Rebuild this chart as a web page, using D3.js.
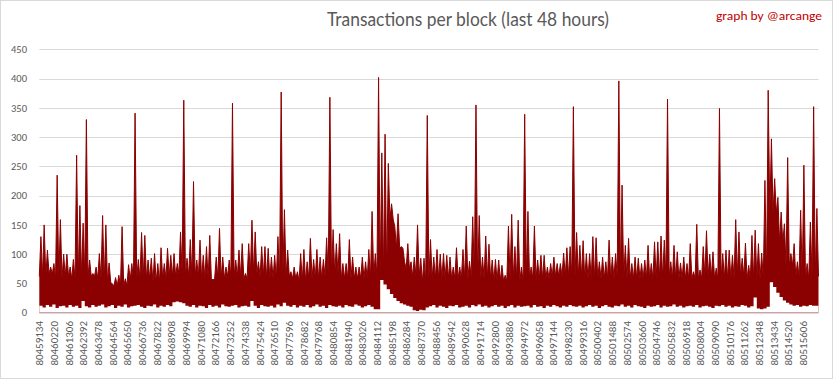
<!DOCTYPE html>
<html><head><meta charset="utf-8">
<script src="https://cdn.jsdelivr.net/npm/d3@7"></script>
<style>body{margin:0;background:#fff;overflow:hidden}</style>
</head><body>
<svg id="chart" width="833" height="379"></svg>
<script>
// ---- data ----
const firstBlock = 80459134;
const totalBlocks = 57600;
const bucketSize = 240;      // highValues / lowValues: max and min per 240-block bucket
const bodySize = 600;        // bodyValues: level of the dense (solid) band per 600 blocks

const highValues = [
 130,150,107,78,84,235,159,100,100,78, 91,269,183,153,330,90,67,78,101,166,
 150,85,49,60,64,147,58,82,84,341, 91,137,132,90,93,101,84,111,84,110,
 98,101,84,138,363,93,125,224,90,124, 98,113,132,56,95,144,95,78,90,358,
 90,107,118,67,118,158,138,87,113,113, 110,95,98,130,377,176,107,70,78,70,
 101,108,87,127,91,108,95,91,128,368, 142,118,135,84,84,125,95,78,78,95,
 87,108,173,101,402,273,305,255,186,147, 169,113,87,118,87,95,150,93,93,337,
 125,95,108,100,101,98,95,78,111,78, 108,148,88,164,355,166,95,131,117,90,
 91,90,81,64,148,168,113,158,78,339, 173,78,148,90,98,98,78,84,95,84,
 84,102,111,113,352,137,115,123,101,101, 130,128,87,95,87,124,95,101,396,218,
 115,127,84,95,93,84,90,115,84,121, 121,131,124,365,87,115,104,85,95,84,
 118,70,151,73,113,140,100,104,76,349, 101,107,107,98,159,138,93,119,81,132,
 141,118,102,226,380,297,229,197,172,152, 265,101,118,87,175,252,84,155,352,178
];

const lowValues = [
 12,9,13,10,14,8,11,12,9,13, 10,12,8,20,11,9,13,10,12,14,
 9,11,13,8,12,10,14,9,11,12, 13,10,8,12,11,14,9,12,10,13,
 11,18,19,18,16,12,10,13,9,12, 11,8,13,10,12,9,14,11,10,12,
 13,9,11,12,10,20,12,8,13,11, 10,12,9,14,11,17,12,10,13,9,
 12,10,13,9,11,14,10,12,8,13, 11,10,12,9,13,11,10,14,12,9,
 11,13,10,6,6,56,48,40,32,25, 20,16,14,12,10,4,3,5,4,9,
 11,13,9,12,10,8,12,11,13,9, 10,12,9,13,11,14,10,12,9,11,
 13,10,12,8,11,13,9,12,10,11, 12,9,13,10,11,8,12,10,13,11,
 9,12,10,13,11,10,12,9,11,13, 10,12,8,11,13,10,9,12,11,14,
 10,12,9,13,11,10,8,12,10,11, 13,9,12,10,11,14,10,12,9,11,
 12,10,13,9,11,12,10,8,12,11, 13,10,12,9,11,10,13,12,9,11,
 26,7,6,7,10,52,44,34,27,21, 17,14,12,13,10,12,11,13,12,12
];

const bodyValues = [
 62,66,58,62,58,62,62,58,52,46, 46,56,58,58,52,58,62,66,62,62,
 58,58,58,62,62,58,66,62,58,58, 62,58,54,58,58,62,66,58,58,58,
 58,62,62,160,110,75,62,52,58,58, 58,58,58,62,58,58,54,54,58,54,
 58,58,58,62,62,62,62,58,58,58, 58,62,58,58,58,58,58,62,58,58,
 58,58,62,58,58,58,62,58,58,58, 170,120,80,62,58,62
];

const yTicks = [0,50,100,150,200,250,300,350,400,450];

const xTickLabels = [
 "80459134","80460220","80461306","80462392","80463478","80464564","80465650",
 "80466736","80467822","80468908","80469994","80471080","80472166","80473252",
 "80474338","80475424","80476510","80477596","80478682","80479768","80480854",
 "80481940","80483026","80484112","80485198","80486284","80487370","80488456",
 "80489542","80490628","80491714","80492800","80493886","80494972","80496058",
 "80497144","80498230","80499316","80500402","80501488","80502574","80503660",
 "80504746","80505832","80506918","80508004","80509090","80510176","80511262",
 "80512348","80513434","80514520","80515606"
];

const titleText = "Transactions per block (last 48 hours)";
const creditText = "graph by @arcange";

// ---- drawing ----
const svg = d3.select("#chart");
const labelFont = "Carlito, Calibri, 'Liberation Sans', Arial, sans-serif";
const red = "#8b0000";

svg.append("rect").attr("x",0.5).attr("y",0.5).attr("width",832).attr("height",378)
  .attr("fill","#fff").attr("stroke","#d9d9d9");

const x = d3.scaleLinear()
  .domain([firstBlock - 0.5, firstBlock + totalBlocks - 0.5])
  .range([39.3, 818.5]);
const y = d3.scaleLinear().domain([0,450]).range([312.7, 49.3]);

// gridlines
svg.append("g").selectAll("line").data(yTicks).join("line")
  .attr("x1", 39.3).attr("x2", 818.5)
  .attr("y1", d => Math.round(y(d)) + 0.5).attr("y2", d => Math.round(y(d)) + 0.5)
  .attr("stroke", "#d9d9d9").attr("stroke-width", 1);

// y labels
svg.append("g").selectAll("text").data(yTicks).join("text")
  .attr("x", 27).attr("y", d => y(d)).attr("dy", "0.35em")
  .attr("text-anchor", "end")
  .attr("font-family", labelFont).attr("font-size", "10.5px").attr("fill", "#595959")
  .text(d => d);

const plot = svg.append("g");

// top outline: bucket maximum at each bucket centre, dense-band level at each bucket edge
const topPoints = [];
highValues.forEach((h, i) => {
  const start = i * bucketSize;
  topPoints.push({ block: firstBlock + start, v: bodyValues[Math.floor(start / bodySize)] });
  topPoints.push({ block: firstBlock + start + bucketSize / 2, v: h });
});
topPoints.push({ block: firstBlock + totalBlocks, v: bodyValues[bodyValues.length - 1] });

const topArea = d3.area().x(d => x(d.block - 0.5)).y0(y(0)).y1(d => y(d.v));
const topLine = d3.line().x(d => x(d.block - 0.5)).y(d => y(d.v));
plot.append("path").datum(topPoints).attr("d", topArea).attr("fill", red);
plot.append("path").datum(topPoints).attr("d", topLine)
  .attr("fill", "none").attr("stroke", red).attr("stroke-width", 1).attr("stroke-linejoin", "miter").attr("stroke-miterlimit", 2);

// white gap below the minimum of each bucket
const floorData = highValues.map((h, i) => ({ block: firstBlock + i * bucketSize, low: lowValues[i] }));
floorData.push({ block: firstBlock + totalBlocks, low: lowValues[lowValues.length - 1] });
plot.append("path").datum(floorData)
  .attr("d", d3.area().x(d => x(d.block - 0.5)).y0(y(0) - 0.3).y1(d => y(d.low)).curve(d3.curveStepAfter))
  .attr("fill", "#fff");

// x labels
svg.append("g").selectAll("text").data(xTickLabels).join("text")
  .attr("transform", d => `translate(${x(+d)},321) rotate(-90)`)
  .attr("dy", "0.35em")
  .attr("text-anchor", "end")
  .attr("font-family", labelFont).attr("font-size", "11px").attr("fill", "#595959")
  .text(d => d);

// title
svg.append("text").attr("x", 327).attr("y", 26)
  .attr("font-family", "Lato, 'Liberation Sans', Arial, sans-serif")
  .attr("font-size", "18.5px").attr("fill", "#595959")
  .attr("textLength", 282).attr("lengthAdjust", "spacingAndGlyphs")
  .text(titleText);

svg.append("text").attr("x", 716).attr("y", 20)
  .attr("font-family", labelFont).attr("font-size", "12px").attr("fill", "#c00000")
  .attr("textLength", 106).attr("lengthAdjust", "spacingAndGlyphs")
  .text(creditText);
</script>
</body></html>
